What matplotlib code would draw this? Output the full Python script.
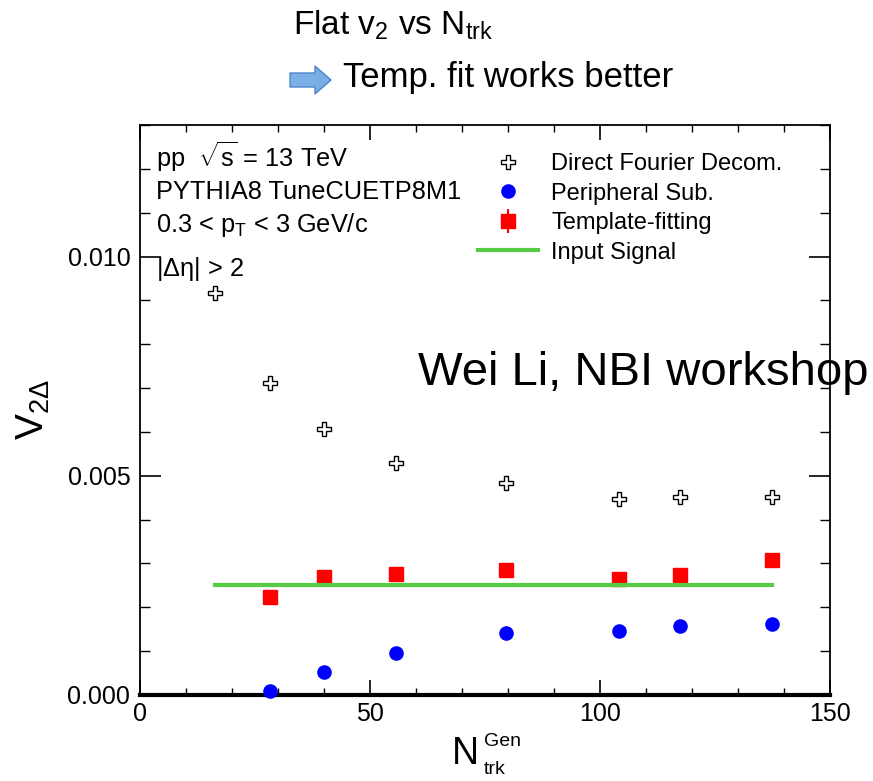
import numpy as np
import matplotlib
matplotlib.use('Agg')
import matplotlib.pyplot as plt
from matplotlib.patches import FancyArrow
from matplotlib.ticker import MultipleLocator, FormatStrFormatter

plt.rcParams['font.family'] = ['Liberation Sans', 'DejaVu Sans']
plt.rcParams['mathtext.fontset'] = 'custom'
plt.rcParams['mathtext.rm'] = 'Liberation Sans'
plt.rcParams['mathtext.it'] = 'Liberation Sans'
plt.rcParams['mathtext.bf'] = 'Liberation Sans:bold'

# data
ntrk_all = [16.2, 28.2, 39.9, 55.7, 79.5, 104.2, 117.3, 137.4]
v2_direct = [9.16e-3, 7.11e-3, 6.06e-3, 5.30e-3, 4.84e-3, 4.46e-3, 4.51e-3, 4.52e-3]
ntrk = [28.2, 39.9, 55.7, 79.5, 104.2, 117.3, 137.4]
v2_periph = [0.08e-3, 0.52e-3, 0.96e-3, 1.42e-3, 1.47e-3, 1.58e-3, 1.61e-3]
v2_template = [2.24e-3, 2.68e-3, 2.76e-3, 2.86e-3, 2.64e-3, 2.74e-3, 3.09e-3]
err_template = [0, 0, 0, 0, 0, 0, 0.13e-3]
input_range = [16.2, 137.4]
input_signal = [2.5e-3, 2.5e-3]

W, H = 873, 781
fig = plt.figure(figsize=(W / 100, H / 100), dpi=100)
ax = fig.add_axes([140 / W, 1 - 695 / H, (830 - 140) / W, (695 - 125) / H])

h1, = ax.plot(ntrk_all, v2_direct, linestyle='none', marker='P', ms=10,
              mfc='white', mec='black', mew=1.0, zorder=3)
h2, = ax.plot(ntrk, v2_periph, linestyle='none', marker='o', ms=9.5,
              color='#0000ff', zorder=4, clip_on=False)
h3 = ax.errorbar(ntrk, v2_template, yerr=err_template, linestyle='none', marker='s',
                 ms=10, color='#ff0000', ecolor='#ff0000', elinewidth=1.5,
                 capsize=0, zorder=3)
h4, = ax.plot(input_range, input_signal, color='#55cc44', lw=3, zorder=5)

ax.set_xlim(0, 150)
ax.set_ylim(0, 0.013)
ax.xaxis.set_major_locator(MultipleLocator(50))
ax.xaxis.set_minor_locator(MultipleLocator(10))
ax.yaxis.set_major_locator(MultipleLocator(0.005))
ax.yaxis.set_minor_locator(MultipleLocator(0.001))
ax.yaxis.set_major_formatter(FormatStrFormatter('%.3f'))
ax.tick_params(axis='both', which='both', direction='in', top=True, right=True,
               labelsize=18, colors='black')
ax.tick_params(axis='x', which='major', length=11, width=1.2, pad=5)
ax.tick_params(axis='x', which='minor', length=5, width=1.0)
ax.tick_params(axis='y', which='major', length=15, width=1.2, pad=7)
ax.tick_params(axis='y', which='minor', length=7.5, width=1.0)
for s in ['left', 'right', 'top']:
    ax.spines[s].set_linewidth(1.3)
ax.spines['bottom'].set_linewidth(3)

ax.set_ylabel(r'$\mathregular{V_{2\Delta}}$', fontsize=28)
ax.yaxis.set_label_coords(-0.128, 0.50)

# x label built from pieces, ROOT-like N^{Gen}_{trk}
fig.text(452 / W, 1 - 764 / H, 'N', fontsize=27, va='baseline')
fig.text(484 / W, 1 - 746 / H, 'Gen', fontsize=14, va='baseline')
fig.text(484 / W, 1 - 774 / H, 'trk', fontsize=14, va='baseline')

ax.legend([h1, h2, h3, h4],
          ['Direct Fourier Decom.', 'Peripheral Sub.', 'Template-fitting', 'Input Signal'],
          loc='upper left', bbox_to_anchor=(478 / W, 1 - 153 / H),
          bbox_transform=fig.transFigure, frameon=False, fontsize=17,
          handlelength=2.55, handletextpad=0.55, labelspacing=0.32,
          borderpad=0, borderaxespad=0)

fs = 18.3
fig.text(156 / W, 1 - 167 / H, r'pp  $\sqrt{\mathregular{s}}$ = 13 TeV', fontsize=fs, va='baseline')
fig.text(156 / W, 1 - 199 / H, 'PYTHIA8 TuneCUETP8M1', fontsize=fs, va='baseline')
fig.text(156 / W, 1 - 232 / H, r'0.3 < p$_{\mathregular{T}}$ < 3 GeV/c', fontsize=fs, va='baseline')
fig.text(156 / W, 1 - 276 / H, r'|$\Delta\eta$| > 2', fontsize=fs, va='baseline')

fig.text(418 / W, 1 - 385 / H, 'Wei Li, NBI workshop', fontsize=34, va='baseline')

fig.text(293 / W, 1 - 25 / H, r'Flat v$_2$ vs N$_{\mathregular{trk}}$', fontsize=24, va='center')
fig.text(343 / W, 1 - 78 / H, 'Temp. fit works better', fontsize=25, va='center')
fig.add_artist(FancyArrow(2.90, (H - 80) / 100, 0.25, 0, width=0.14, head_width=0.28,
                          head_length=0.16, length_includes_head=False,
                          facecolor='#7aaee6', edgecolor='#4f86c6', lw=1,
                          transform=fig.dpi_scale_trans))

fig.savefig('out.png', dpi=100)
